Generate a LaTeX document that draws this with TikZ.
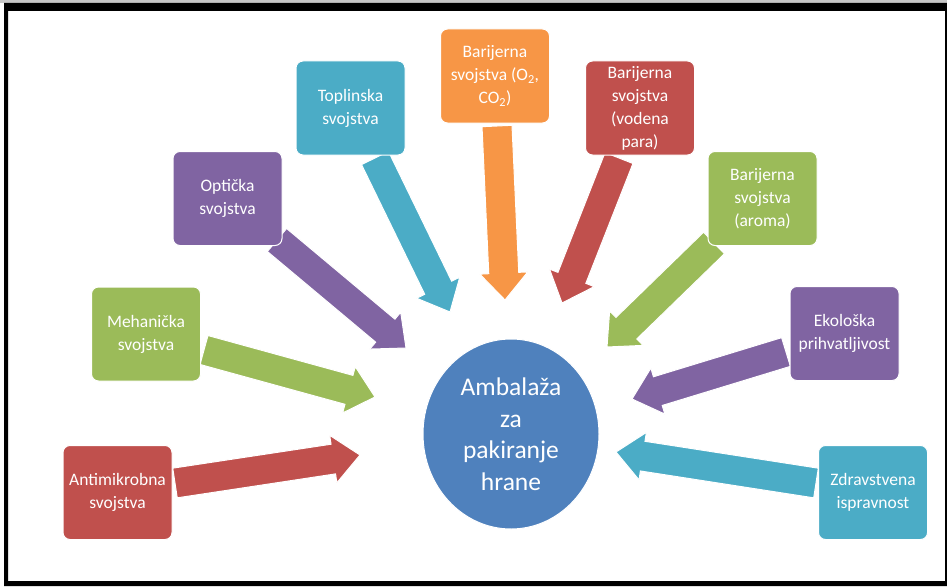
\documentclass[tikz,border=0pt]{standalone}
\usepackage{fontspec}
\setmainfont{Carlito}
\usetikzlibrary{shapes.geometric}
\definecolor{cred}{HTML}{C0504D}
\definecolor{cgreen}{HTML}{9BBB59}
\definecolor{cpurple}{HTML}{8064A2}
\definecolor{cteal}{HTML}{4BACC6}
\definecolor{corange}{HTML}{F79646}
\definecolor{cblue}{HTML}{4F81BD}
\newcommand\blockarrow[3]{%
  \pgfpointdiff{\pgfpointanchor{#2}{center}}{\pgfpointanchor{#3}{center}}%
  \pgfgetlastxy{\bax}{\bay}%
  \pgfmathsetmacro\baang{atan2(\bay,\bax)}%
  \pgfmathsetmacro\balen{veclen(\bax,\bay)}%
  \fill[#1, draw=white, line width=1pt, shift={(#2)}, rotate=\baang]
    (0pt,-15pt) -- (\balen pt-27pt,-15pt) -- (\balen pt-27pt,-24pt) -- (\balen pt,0pt)
    -- (\balen pt-27pt,24pt) -- (\balen pt-27pt,15pt) -- (0pt,15pt) -- cycle;
}
\tikzset{
  box/.style={rounded corners=7pt, minimum width=109pt, minimum height=94pt,
    draw=white, line width=1pt, text=white, align=center, inner sep=1pt,
    font=\fontsize{17.5}{23}\selectfont},
  hub/.style={ellipse, minimum width=176pt, minimum height=190pt, fill=cblue,
    draw=white, line width=1pt, text=white, align=center, inner sep=0pt,
    font=\fontsize{25.5}{31.5}\selectfont}
}
\begin{document}
\begin{tikzpicture}[x=1pt,y=-1pt]
\useasboundingbox (0,0) rectangle (947,586);
\fill[white] (0,0) rectangle (947,586);
\fill[black!22] (0,0) rectangle (947,3);
\fill[black, even odd rule] (4,3) rectangle (947,586) (8,11) rectangle (945,581);
% arrow ends
\coordinate (t1) at (175,483); \coordinate (h1) at (360,455);
\coordinate (t2) at (204,350); \coordinate (h2) at (375,397);
\coordinate (t3) at (277,240); \coordinate (h3) at (406,348);
\coordinate (t4) at (375,158); \coordinate (h4) at (450,312);
\coordinate (t5) at (497,126); \coordinate (h5) at (505,300);
\coordinate (t6) at (619,158); \coordinate (h6) at (562,303);
\coordinate (t7) at (714,243); \coordinate (h7) at (607,347);
\coordinate (t8) at (786,352); \coordinate (h8) at (632,399);
\coordinate (t9) at (816,483); \coordinate (h9) at (616,452);
\blockarrow{cred}{t1}{h1}
\blockarrow{cgreen}{t2}{h2}
\blockarrow{cpurple}{t3}{h3}
\blockarrow{cteal}{t4}{h4}
\blockarrow{corange}{t5}{h5}
\blockarrow{cred}{t6}{h6}
\blockarrow{cgreen}{t7}{h7}
\blockarrow{cpurple}{t8}{h8}
\blockarrow{cteal}{t9}{h9}
% boxes
\node[box, fill=cred] (anti) at (117.5,492.5) {Antimikrobna\\svojstva};
\node[box, fill=cgreen] (meh) at (146,334) {Mehanička\\svojstva};
\node[box, fill=cpurple] (opt) at (227.5,198.5) {Optička\\svojstva};
\node[box, fill=cteal] (top) at (350.5,108) {Toplinska\\svojstva};
\node[box, fill=corange] (bo2) at (495,76) {Barijerna\\svojstva (O\textsubscript{2},\\CO\textsubscript{2})};
\node[box, fill=cred] (bvp) at (640,108) {Barijerna\\svojstva\\(vodena\\para)};
\node[box, fill=cgreen] (bar) at (762.5,198.5) {Barijerna\\svojstva\\(aroma)};
\node[box, fill=cpurple] (eko) at (844.5,333.5) {Ekološka\\prihvatljivost};
\node[box, fill=cteal] (zdr) at (873,492.5) {Zdravstvena\\ispravnost};
\node[hub] (amb) at (511,434) {Ambalaža\\za\\pakiranje\\hrane};
\end{tikzpicture}
\end{document}
